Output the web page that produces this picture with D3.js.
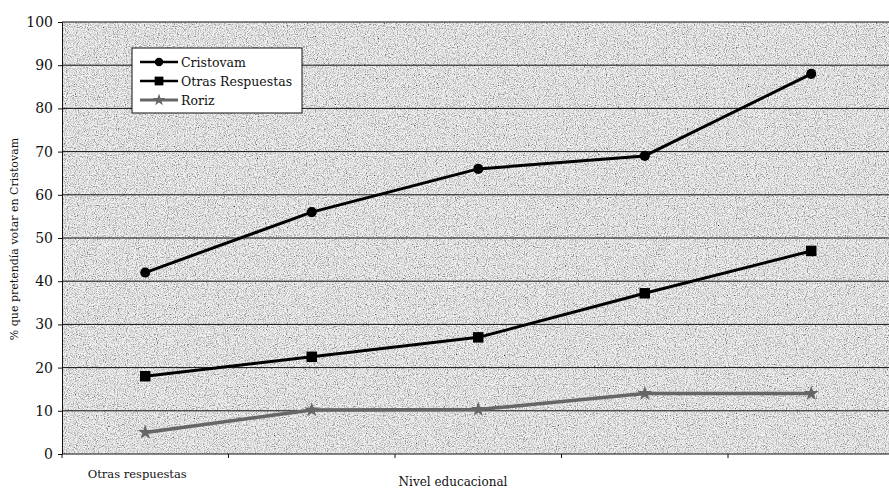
<!DOCTYPE html>
<html>
<head>
<meta charset="utf-8">
<script src="https://cdn.jsdelivr.net/npm/d3@7"></script>
<style>
  body { margin: 0; background: #fff; }
  svg { display: block; }
  text { font-family: "DejaVu Serif", "Liberation Serif", serif; fill: #111; }
</style>
</head>
<body>
<div id="chart"></div>
<script>
// chart data
const levels = [1, 2, 3, 4, 5];
const levelLabels = ["Otras respuestas", "", "", "", ""];
const cristovam = [42, 56, 66, 69, 88];
const otras = [18, 22.5, 27, 37.2, 47];
const roriz = [5, 10.2, 10.3, 14, 14];
const yTicks = [0, 10, 20, 30, 40, 50, 60, 70, 80, 90, 100];

const series = [
  {name: "Cristovam", values: cristovam, color: "#000", width: 3, symbol: d3.symbolCircle, size: 80},
  {name: "Otras Respuestas", values: otras, color: "#000", width: 3, symbol: d3.symbolSquare, size: 110},
  {name: "Roriz", values: roriz, color: "#666", width: 3.5, symbol: d3.symbolStar, size: 70}
];

const W = 889, H = 488;
const margin = {top: 22, left: 62, bottom: 34};
const bandW = 166.5;
const width = bandW * levels.length;
const height = H - margin.top - margin.bottom;

const svg = d3.select("#chart").append("svg")
  .attr("width", W).attr("height", H);

// grainy gray background texture
const defs = svg.append("defs");
const f = defs.append("filter").attr("id", "grain")
  .attr("x", 0).attr("y", 0).attr("width", 1).attr("height", 1);
f.append("feTurbulence").attr("type", "fractalNoise")
  .attr("baseFrequency", "0.9").attr("numOctaves", 2).attr("seed", 4);
f.append("feColorMatrix").attr("type", "matrix")
  .attr("values", "2 0 0 0 -0.22  2 0 0 0 -0.22  2 0 0 0 -0.22  0 0 0 0 1");

const g = svg.append("g").attr("transform", "translate(" + margin.left + "," + margin.top + ")");

let x = d3.scaleBand().domain(levels).range([0, width]);
let y = d3.scaleLinear().domain([0, 100]).range([height, 0]);

g.append("rect").attr("width", width).attr("height", height)
  .attr("fill", "#c2c2c2");
g.append("rect").attr("width", width).attr("height", height)
  .attr("filter", "url(#grain)").attr("opacity", 0.8);

// gridlines
g.append("g")
  .selectAll("line")
  .data(yTicks.filter(d => d > 0))
  .enter().append("line")
  .attr("x1", 0).attr("x2", width)
  .attr("y1", d => y(d)).attr("y2", d => y(d))
  .attr("stroke", "#111").attr("stroke-width", 1);

// y axis
const yAxis = g.append("g")
  .call(d3.axisLeft(y).tickValues(yTicks).tickSize(4).tickPadding(5));
yAxis.select(".domain").attr("stroke", "#111");
yAxis.selectAll("line").attr("stroke", "#111");
yAxis.selectAll("text").attr("font-size", "14px").attr("font-family", "DejaVu Serif").attr("fill", "#111");

// x axis (category boundaries ticks)
g.append("line").attr("x1", 0).attr("x2", width)
  .attr("y1", height).attr("y2", height).attr("stroke", "#111");
g.append("g").selectAll("line")
  .data(levels)
  .enter().append("line")
  .attr("x1", d => x(d)).attr("x2", d => x(d))
  .attr("y1", height).attr("y2", height + 4)
  .attr("stroke", "#111");
g.append("line").attr("x1", width).attr("x2", width)
  .attr("y1", height).attr("y2", height + 4).attr("stroke", "#111");

g.append("g").selectAll("text")
  .data(levels)
  .enter().append("text")
  .attr("x", d => x(d) + x.bandwidth() / 2 - 8)
  .attr("y", height + 24)
  .attr("text-anchor", "middle")
  .attr("font-size", "11.5px")
  .text((d, i) => levelLabels[i]);

// axis titles
svg.append("text")
  .attr("x", 453).attr("y", 486)
  .attr("text-anchor", "middle")
  .attr("font-size", "12px")
  .text("Nivel educacional");

svg.append("text")
  .attr("transform", "translate(18,239) rotate(270)")
  .attr("text-anchor", "middle")
  .attr("font-size", "11px")
  .text("% que pretendía votar en Cristovam");

// lines and markers
const line = d3.line()
  .x((d, i) => x(levels[i]) + x.bandwidth() / 2)
  .y(d => y(d));

series.forEach(function (s) {
  g.append("path")
    .datum(s.values)
    .attr("fill", "none")
    .attr("stroke", s.color)
    .attr("stroke-width", s.width)
    .attr("stroke-linejoin", "round")
    .attr("d", line);
  g.append("g").selectAll("path")
    .data(s.values)
    .enter().append("path")
    .attr("transform", (d, i) => "translate(" + (x(levels[i]) + x.bandwidth() / 2) + "," + y(d) + ")")
    .attr("d", d3.symbol().type(s.symbol).size(s.size))
    .attr("fill", s.color);
});

// legend
const legend = svg.append("g").attr("transform", "translate(132,48)");
legend.append("rect").attr("width", 170).attr("height", 65)
  .attr("fill", "#fff").attr("stroke", "#111").attr("stroke-width", 1);
series.forEach(function (s, i) {
  const row = legend.append("g").attr("transform", "translate(0," + (14 + i * 19) + ")");
  row.append("line").attr("x1", 8).attr("x2", 46).attr("y1", 0).attr("y2", 0)
    .attr("stroke", s.color).attr("stroke-width", s.width - 0.5);
  row.append("path").attr("transform", "translate(27,0)")
    .attr("d", d3.symbol().type(s.symbol).size(s.size * 0.7))
    .attr("fill", s.color);
  row.append("text").attr("x", 49).attr("y", 4.5)
    .attr("font-size", "12.5px")
    .text(s.name);
});
</script>
</body>
</html>
